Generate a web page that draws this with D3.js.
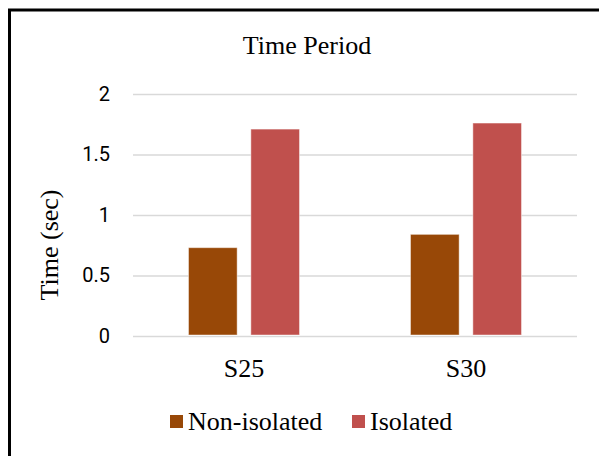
<!DOCTYPE html>
<html>
<head>
<meta charset="utf-8">
<script src="https://cdn.jsdelivr.net/npm/d3@7"></script>
<style>
  html, body { margin: 0; padding: 0; background: #fff; }
  svg { display: block; }
</style>
</head>
<body>
<svg id="chart" width="599" height="456"></svg>
<script>
const categories = ["S25", "S30"];
const seriesNames = ["Non-isolated", "Isolated"];
const nonIsolated = [0.73, 0.84];
const isolated = [1.71, 1.76];
const yTicks = [0, 0.5, 1, 1.5, 2];
const colors = ["#984807", "#C0504D"];
const titleText = "Time Period";
const yLabel = "Time (sec)";

const seriesValues = [nonIsolated, isolated];
const svg = d3.select("#chart");
const serif = "'Liberation Serif', 'Times New Roman', serif";

// outer border
svg.append("rect")
  .attr("x", 9.5).attr("y", 10)
  .attr("width", 620).attr("height", 480)
  .attr("fill", "#fff").attr("stroke", "#000").attr("stroke-width", 3);

const plot = { left: 133, right: 577, top: 94, bottom: 336 };

const y = d3.scaleLinear().domain([0, 2]).range([plot.bottom, plot.top]);
const x0 = d3.scaleBand().domain(categories).range([plot.left, plot.right]).padding(0);
const bw = x0.bandwidth();
const x1 = d3.scaleBand().domain(seriesNames).range([bw * 0.25, bw * 0.75]).paddingInner(0.22);

// gridlines
const grid = svg.append("g")
  .attr("transform", `translate(${plot.left},0)`)
  .call(d3.axisLeft(y).tickValues(yTicks).tickSize(-(plot.right - plot.left)).tickFormat(""));
grid.select(".domain").remove();
grid.selectAll(".tick line").attr("stroke", "#d9d9d9").attr("stroke-width", 1.5);

// y tick labels
const yAxis = svg.append("g")
  .attr("transform", `translate(110,0)`)
  .call(d3.axisLeft(y).tickValues(yTicks).tickSize(0).tickPadding(0).tickFormat(d3.format("")));
yAxis.select(".domain").remove();
yAxis.selectAll("text")
  .attr("font-family", "Roboto, sans-serif")
  .attr("font-size", 20)
  .attr("fill", "#000");

// bars
const groups = svg.append("g").selectAll("g")
  .data(categories)
  .join("g")
  .attr("transform", d => `translate(${x0(d)},0)`);

groups.selectAll("rect")
  .data((d, i) => seriesNames.map((s, j) => ({ s, j, v: seriesValues[j][i] })))
  .join("rect")
  .attr("x", d => x1(d.s))
  .attr("width", x1.bandwidth())
  .attr("y", d => y(d.v))
  .attr("height", d => y(0) - y(d.v) - 1)
  .attr("fill", d => colors[d.j])
  .attr("stroke", "#fff")
  .attr("stroke-opacity", 0.45)
  .attr("stroke-width", 1);

// x axis labels
const xAxis = svg.append("g")
  .attr("transform", `translate(0,${plot.bottom})`)
  .call(d3.axisBottom(x0).tickSize(0).tickPadding(0));
xAxis.select(".domain").remove();
xAxis.selectAll("text")
  .attr("dy", 0)
  .attr("y", 41)
  .attr("font-family", serif)
  .attr("font-size", 26)
  .attr("fill", "#000");

// title
svg.append("text")
  .attr("x", 307).attr("y", 54)
  .attr("text-anchor", "middle")
  .attr("font-family", serif)
  .attr("font-size", 26)
  .attr("fill", "#000")
  .text(titleText);

// y label
svg.append("text")
  .attr("transform", `translate(58,${(188 + 302) / 2}) rotate(-90)`)
  .attr("text-anchor", "middle")
  .attr("font-family", serif)
  .attr("font-size", 26)
  .attr("fill", "#000")
  .text(yLabel);

// legend
const legendX = [170, 352];
const legend = svg.append("g").selectAll("g")
  .data(seriesNames)
  .join("g")
  .attr("transform", (d, i) => `translate(${legendX[i]},415)`);
legend.append("rect")
  .attr("width", 13).attr("height", 13)
  .attr("fill", (d, i) => colors[i]);
legend.append("text")
  .attr("x", 18).attr("y", 15)
  .attr("font-family", serif)
  .attr("font-size", 26)
  .attr("fill", "#000")
  .text(d => d);
</script>
</body>
</html>
